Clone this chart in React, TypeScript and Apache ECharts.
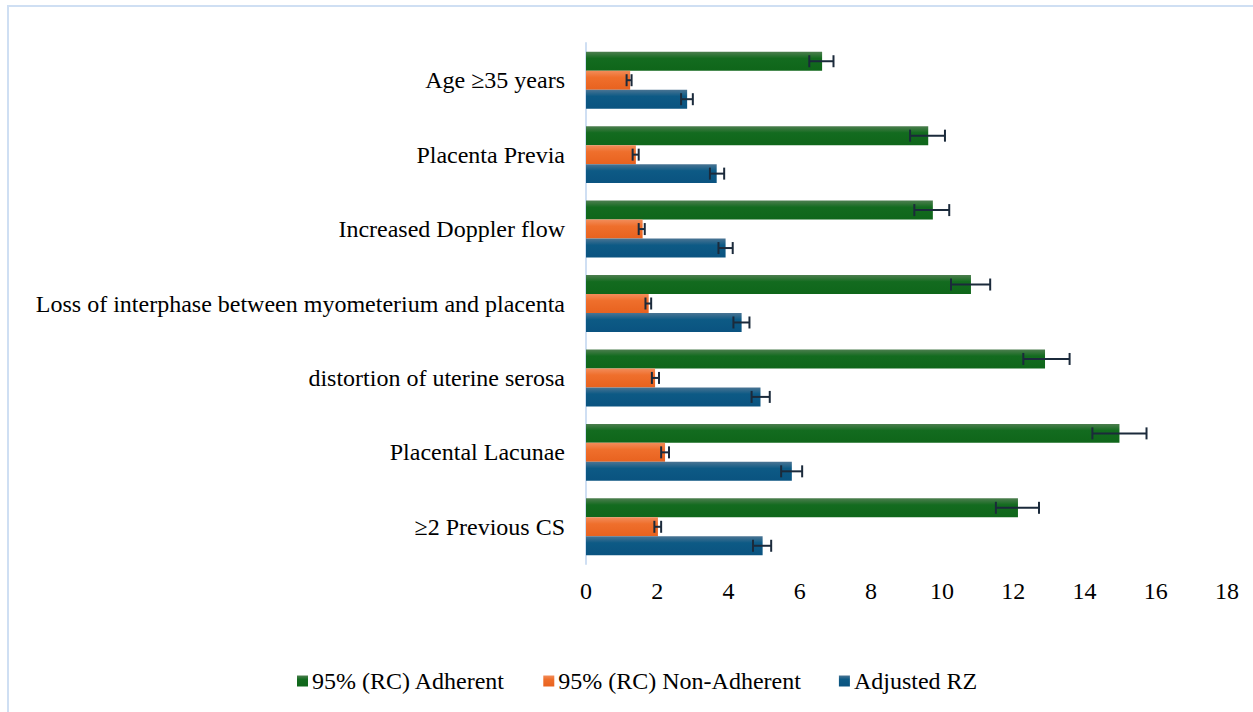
import React, { useEffect, useRef } from "react";
import * as echarts from "echarts";

const categories = [
  "Age ≥35 years",
  "Placenta Previa",
  "Increased Doppler flow",
  "Loss of interphase between myometerium and placenta",
  "distortion of uterine serosa",
  "Placental Lacunae",
  "≥2 Previous CS",
];
const seriesNames = ["95% (RC) Adherent", "95% (RC) Non-Adherent", "Adjusted RZ"];

const adherent = [6.63, 9.61, 9.74, 10.81, 12.89, 14.98, 12.13];
const adherentLow = [6.27, 9.1, 9.22, 10.25, 12.28, 14.22, 11.51];
const adherentHigh = [6.95, 10.08, 10.2, 11.35, 13.58, 15.74, 12.72];

const nonAdherent = [1.24, 1.4, 1.59, 1.76, 1.94, 2.22, 2.02];
const nonAdherentLow = [1.14, 1.31, 1.48, 1.67, 1.85, 2.11, 1.92];
const nonAdherentHigh = [1.28, 1.48, 1.65, 1.83, 2.05, 2.33, 2.11];

const adjustedRZ = [2.84, 3.67, 3.92, 4.37, 4.9, 5.78, 4.96];
const adjustedRZLow = [2.67, 3.48, 3.72, 4.14, 4.65, 5.48, 4.69];
const adjustedRZHigh = [3.0, 3.88, 4.12, 4.59, 5.16, 6.07, 5.2];

const xTicks = { min: 0, max: 18, interval: 2 };

const FONT = "'Liberation Serif', 'Times New Roman', serif";
const CAT_GAP = 0.235;

function grad(top: string, mid: string, bottom: string) {
  return new echarts.graphic.LinearGradient(0, 0, 0, 1, [
    { offset: 0, color: top },
    { offset: 0.35, color: mid },
    { offset: 1, color: bottom },
  ]);
}

export default function App() {
  const ref = useRef<HTMLDivElement>(null);
  useEffect(() => {
    if (!ref.current) return;
    const chart = echarts.init(ref.current, undefined, { renderer: "svg" });
    const values = [adherent, nonAdherent, adjustedRZ];
    const lows = [adherentLow, nonAdherentLow, adjustedRZLow];
    const highs = [adherentHigh, nonAdherentHigh, adjustedRZHigh];
    const colors = [
      grad("#4d7e4f", "#136b1f", "#0f661a"),
      grad("#f28c5a", "#ef6f2c", "#e8621f"),
      grad("#4a7493", "#0d5a85", "#0a5380"),
    ];
    const barSeries = values.map((v, k) => ({
      name: seriesNames[k],
      type: "bar",
      data: v,
      barGap: "0%",
      barCategoryGap: CAT_GAP * 100 + "%",
      itemStyle: { color: colors[k] },
      z: 2,
    }));
    const errSeries = values.map((_, k) => ({
      name: "err" + k,
      type: "custom",
      z: 5,
      encode: { x: [1, 2], y: 0 },
      data: categories.map((_c, i) => [i, lows[k][i], highs[k][i]]),
      renderItem: (params: any, api: any) => {
        const cat = api.value(0);
        const lo = api.value(1);
        const hi = api.value(2);
        const p0 = api.coord([lo, cat]);
        const p1 = api.coord([hi, cat]);
        const band = Math.abs(api.size([0, 1])[1]);
        const bw = (band * (1 - CAT_GAP)) / 3;
        const y = p0[1] + (k - 1) * bw;
        const cap = 6;
        const style = { stroke: "#1b2a3b", lineWidth: 2 };
        return {
          type: "group",
          children: [
            { type: "line", shape: { x1: p0[0], y1: y, x2: p1[0], y2: y }, style },
            { type: "line", shape: { x1: p0[0], y1: y - cap, x2: p0[0], y2: y + cap }, style },
            { type: "line", shape: { x1: p1[0], y1: y - cap, x2: p1[0], y2: y + cap }, style },
          ],
        };
      },
    }));
    chart.setOption({
      animation: false,
      backgroundColor: "#ffffff",
      graphic: [
        {
          type: "rect",
          shape: { x: 8, y: 6, width: 1400, height: 900 },
          style: { fill: "none", stroke: "#cfdff3", lineWidth: 2 },
          silent: true,
        },
      ],
      grid: { left: 586, right: 26, top: 43, bottom: 148 },
      legend: {
        data: seriesNames,
        icon: "rect",
        left: 292,
        top: 664,
        itemWidth: 11,
        itemHeight: 11,
        itemGap: 38,
        textStyle: { fontFamily: FONT, fontSize: 24, color: "#000", padding: [0, 0, 0, -1] },
      },
      xAxis: {
        type: "value",
        min: xTicks.min,
        max: xTicks.max,
        interval: xTicks.interval,
        axisLine: { show: false },
        axisTick: { show: false },
        splitLine: { show: false },
        axisLabel: { fontFamily: FONT, fontSize: 24, color: "#000", margin: 15 },
      },
      yAxis: {
        type: "category",
        data: categories,
        inverse: true,
        axisLine: { show: true, lineStyle: { color: "#cfdff3", width: 2 } },
        axisTick: { show: false },
        axisLabel: { fontFamily: FONT, fontSize: 24, color: "#000", margin: 21 },
      },
      series: [...barSeries, ...errSeries],
    });
    return () => chart.dispose();
  }, []);
  return (
    <div
      ref={ref}
      style={{ position: "fixed", left: 0, top: 0, width: 1253, height: 712 }}
    />
  );
}
